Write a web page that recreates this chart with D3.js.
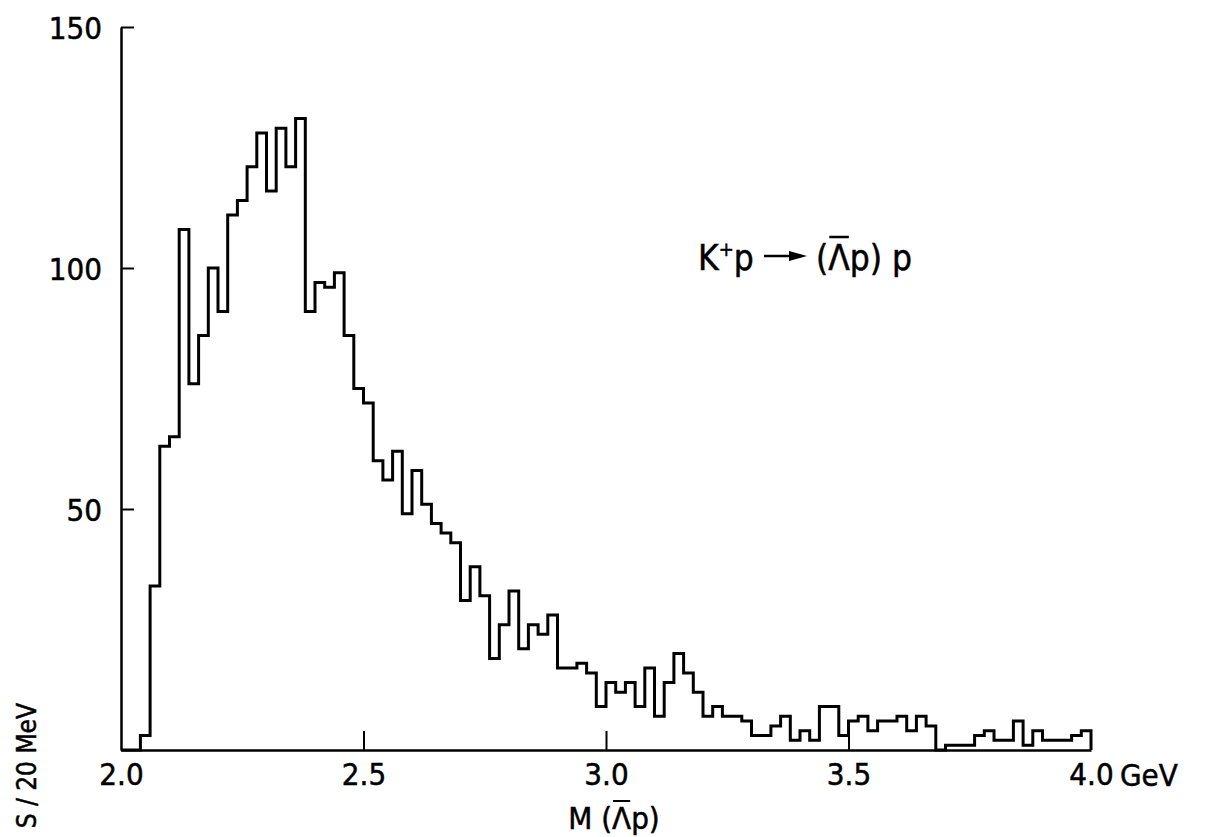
<!DOCTYPE html>
<html>
<head>
<meta charset="utf-8">
<script src="https://cdn.jsdelivr.net/npm/d3@7"></script>
<style>
  body { margin: 0; background: #fff; }
  svg { display: block; }
  svg text { stroke: #000; stroke-width: 0.5px; }
  .ylab text { font-family: "DejaVu Sans Condensed", "DejaVu Sans", sans-serif; font-size: 31px; }
  .xlab text { font-family: "DejaVu Sans Condensed", "DejaVu Sans", sans-serif; font-size: 31px; }
  .lbl { font-family: "DejaVu Sans Condensed", "DejaVu Sans", sans-serif; }
</style>
</head>
<body>
<svg id="chart" width="1205" height="837"></svg>
<script>
// events per 20 MeV bin, 2.00 -> 4.00 GeV (100 bins)
const binStart = 2.0;
const binWidth = 0.02;
const counts = [
  0, 0, 3, 34, 63, 65, 108, 76, 86, 100,
  91, 111, 114, 121, 128, 116, 129, 121, 131, 91,
  97, 96, 99, 86, 75, 72, 60, 56, 62, 49,
  58, 51, 47, 45, 43, 31, 38, 32, 19, 26,
  33, 21, 26, 24, 28, 17, 17, 18, 16, 9,
  14, 12, 14, 9, 17, 7, 14, 20, 16, 12,
  7, 9, 7, 7, 6, 3, 3, 5, 7, 2,
  4, 2, 9, 9, 3, 6, 7, 4, 6, 6,
  7, 4, 7, 5, 0, 1, 1, 1, 3, 4,
  2, 2, 6, 1, 4, 2, 2, 2, 3, 4
];
const xTicks = [2.0, 2.5, 3.0, 3.5, 4.0];
const yTicks = [50, 100, 150];

const svg = d3.select("#chart");

const x = d3.scaleLinear().domain([2.0, 4.0]).range([121, 1091]);
const y = d3.scaleLinear().domain([0, 150]).range([750, 27]);

// y axis, ticks pointing inward
const yAxis = svg.append("g")
  .attr("class", "ylab")
  .attr("transform", "translate(" + x(2.0) + ",0)")
  .call(d3.axisLeft(y).tickValues(yTicks).tickSize(-13).tickSizeOuter(0).tickPadding(19));
yAxis.select(".domain").attr("stroke-width", 2.5);
yAxis.selectAll(".tick line").attr("stroke-width", 2);
yAxis.selectAll(".tick text").attr("fill", "#000").attr("dy", "0.36em");

// x axis
const xAxis = svg.append("g")
  .attr("class", "xlab")
  .attr("transform", "translate(0," + y(0) + ")")
  .call(d3.axisBottom(x).tickValues(xTicks).tickSize(-19).tickSizeOuter(0).tickPadding(13)
    .tickFormat(d3.format(".1f")));
xAxis.select(".domain").attr("stroke-width", 2.5);
xAxis.selectAll(".tick line").attr("stroke-width", 2)
  .attr("display", d => (d === 2.0 || d === 4.0) ? "none" : null);
xAxis.selectAll(".tick text").attr("fill", "#000");

svg.append("text")
  .attr("class", "lbl")
  .attr("x", x(4.0) + 29)
  .attr("y", 786)
  .attr("font-size", 31)
  .text("GeV");

// histogram outline
const pts = counts.map((c, i) => [binStart + i * binWidth, c]);
pts.push([4.0, counts[counts.length - 1]]);
pts.push([4.0, 0]);
const line = d3.line()
  .x(d => x(d[0]))
  .y(d => y(d[1]))
  .curve(d3.curveStepAfter);
svg.append("path")
  .datum(pts)
  .attr("d", line)
  .attr("fill", "none")
  .attr("stroke", "#000")
  .attr("stroke-width", 3)
  .attr("stroke-linejoin", "miter");

// overline over the Lambda (char index i) of a text element
function overline(textSel, i, yLine, w) {
  const node = textSel.node();
  const bb = node.getBBox();
  const x0 = bb.x + node.getSubStringLength(0, i);
  const cw = node.getSubStringLength(i, 1);
  svg.append("line")
    .attr("x1", x0 + 1).attr("x2", x0 + cw - 1)
    .attr("y1", yLine).attr("y2", yLine)
    .attr("stroke", "#000").attr("stroke-width", w);
}

// reaction label
const t1 = svg.append("text").attr("class", "lbl").attr("font-size", 35)
  .attr("x", 698).attr("y", 270);
t1.append("tspan").text("K");
t1.append("tspan").attr("font-size", 20).attr("dy", -14).text("+");
t1.append("tspan").attr("dy", 14).text("p");
svg.append("line")
  .attr("x1", 764).attr("x2", 795).attr("y1", 256).attr("y2", 256)
  .attr("stroke", "#000").attr("stroke-width", 2.5);
svg.append("path")
  .attr("d", "M 789 251 L 807 256 L 789 261 Z")
  .attr("fill", "#000");
const t2 = svg.append("text").attr("class", "lbl").attr("font-size", 35)
  .attr("x", 816).attr("y", 270).text("(Λp) p");
overline(t2, 1, 237, 2.5);

// axis titles
const xt = svg.append("text")
  .attr("class", "lbl")
  .attr("x", 614)
  .attr("y", 829)
  .attr("text-anchor", "middle")
  .attr("font-size", 31)
  .text("M (Λp)");
overline(xt, 3, 801, 2);

svg.append("text")
  .attr("class", "lbl")
  .attr("transform", "translate(36,703) rotate(-90)")
  .attr("text-anchor", "end")
  .attr("font-size", 26)
  .text("S / 20 MeV");
</script>
</body>
</html>
